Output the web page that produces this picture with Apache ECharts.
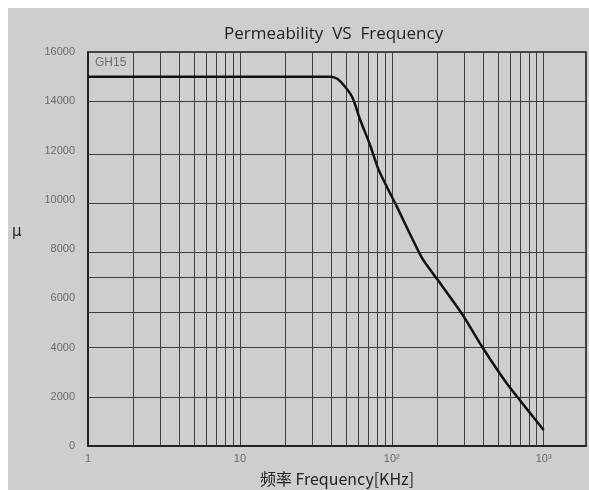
<!DOCTYPE html>
<html>
<head>
<meta charset="utf-8">
<script src="https://cdn.jsdelivr.net/npm/echarts@6/dist/echarts.min.js"></script>
<style>
html,body{margin:0;padding:0;background:#ffffff;}
#c{width:589px;height:490px;}
</style>
</head>
<body>
<div id="c"></div>
<script>
// Curve data (frequency in kHz, permeability)
const freq = [1, 10, 40, 44, 48, 53, 56, 62, 72, 82, 108, 158, 200, 289, 397, 571, 1000];
const mu   = [15000, 15000, 15000, 14900, 14670, 14330, 14050, 13240, 12220, 11210, 9720, 7640, 6760, 5380, 3990, 2550, 650];
// Axis tick labels
const xTickValues = [1, 10, 100, 1000];
const xTickLabels = ['1', '10', '10\u00B2', '10\u00B3'];
const yTickValues = [0, 2000, 4000, 6000, 8000, 10000, 12000, 14000, 16000];
// Grid lines as printed in the figure
const minorX = [2,3,4,5,6,7,8,9,20,30,40,50,60,70,80,90,200,300,400,500,600,700,800,900];
const gridY = [14000, 11850, 9850, 7850, 6850, 5450, 4000, 2000];

const chart = echarts.init(document.getElementById('c'));
const gridColor = '#3e3e3e';
const markData = minorX.map(v => ({xAxis: v})).concat(gridY.map(v => ({yAxis: v})));

chart.setOption({
  backgroundColor: 'transparent',
  animation: false,
  graphic: [
    {type: 'rect', z: -10, shape: {x: 8, y: 8, width: 589, height: 490}, style: {fill: '#cdced2'}},
    {type: 'text', left: 12, top: 225, style: {text: '\u03BC', fontSize: 15, fill: '#222', fontFamily: 'DejaVu Sans'}},
    {type: 'text', left: 95, top: 57, style: {text: 'GH15', fontSize: 12, fill: '#6e6e6e', fontFamily: 'Liberation Sans'}}
  ],
  title: {
    text: 'Permeability  VS  Frequency',
    left: 219, top: 21,
    textStyle: {fontSize: 17, fontWeight: 'normal', color: '#1e1e1e', fontFamily: 'Open Sans'}
  },
  grid: {left: 88, top: 52, right: 3, bottom: 44, outerBoundsMode: 'none', containLabel: false,
         show: true, borderColor: '#1a1a1a', borderWidth: 1.5, backgroundColor: 'transparent'},
  xAxis: {
    type: 'log', logBase: 10, min: 1, max: 1900,
    axisLine: {show: true, lineStyle: {color: '#1a1a1a', width: 1.5}},
    axisTick: {show: false},
    splitLine: {show: true, lineStyle: {color: gridColor, width: 1}},
    axisLabel: {
      color: '#6a6a6a', fontSize: 11, margin: 7, fontFamily: 'Liberation Sans',
      showMaxLabel: false,
      formatter: function (v) {
        const i = xTickValues.findIndex(t => Math.abs(t - v) < 1e-6 * t);
        return i >= 0 ? xTickLabels[i] : '';
      }
    },
    name: '\u9891\u7387 Frequency[KHz]',
    nameLocation: 'middle', nameGap: 25,
    nameTextStyle: {fontSize: 16, color: '#222', fontFamily: 'Noto Sans CJK SC'}
  },
  yAxis: {
    type: 'value', min: 0, max: 16000, interval: 2000,
    axisLine: {show: true, lineStyle: {color: '#1a1a1a', width: 1.5}},
    axisTick: {show: false},
    splitLine: {show: false},
    axisLabel: {
      color: '#6a6a6a', fontSize: 11, margin: 13, fontFamily: 'Liberation Sans',
      formatter: function (v) { return yTickValues.indexOf(v) >= 0 ? String(v) : ''; }
    }
  },
  series: [{
    type: 'line',
    data: freq.map((f, i) => [f, mu[i]]),
    smooth: 0.2,
    showSymbol: false,
    lineStyle: {color: '#111', width: 2.5},
    z: 5,
    markLine: {
      silent: true, symbol: 'none', label: {show: false},
      lineStyle: {color: gridColor, width: 1, type: 'solid'},
      z: 1,
      data: markData
    }
  }]
});
</script>
</body>
</html>
